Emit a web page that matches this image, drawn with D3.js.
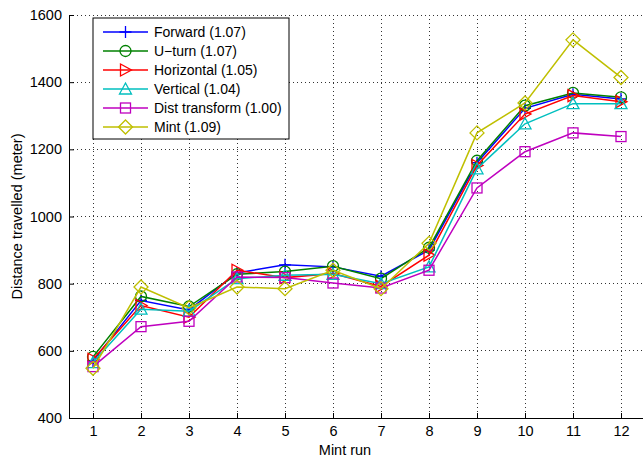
<!DOCTYPE html>
<html>
<head>
<meta charset="utf-8">
<script src="https://cdn.jsdelivr.net/npm/d3@7/dist/d3.min.js"></script>
<style>
  body { margin: 0; background: #fff; }
  svg { display: block; font-family: "Liberation Sans", Arial, sans-serif; }
</style>
</head>
<body>
<svg id="chart" width="643" height="460"></svg>
<script>
// data
var runs = [1, 2, 3, 4, 5, 6, 7, 8, 9, 10, 11, 12];
var seriesNames = ["Forward (1.07)", "U\u2212turn (1.07)", "Horizontal (1.05)", "Vertical (1.04)", "Dist transform (1.00)", "Mint (1.09)"];
var forward   = [570, 750, 722, 832, 856, 850, 822, 900, 1160, 1322, 1364, 1350];
var uturn     = [582, 762, 732, 828, 836, 852, 815, 907, 1166, 1330, 1368, 1355];
var horizontal= [575, 735, 700, 840, 818, 830, 792, 885, 1152, 1305, 1360, 1342];
var vertical  = [565, 724, 718, 815, 825, 828, 800, 850, 1142, 1276, 1336, 1336];
var distTrans = [553, 672, 688, 820, 818, 802, 787, 840, 1085, 1193, 1249, 1238];
var mint      = [548, 790, 728, 790, 785, 840, 785, 920, 1249, 1338, 1526, 1414];
var yTicks = [400, 600, 800, 1000, 1200, 1400, 1600];

var colors = ["#0000ff", "#008000", "#ff0000", "#00bfbf", "#bf00bf", "#bfbf00"];
var markers = ["plus", "circle", "right", "up", "square", "diamond"];
var allSeries = [forward, uturn, horizontal, vertical, distTrans, mint];

var fontSize = "14.5px";
var svg = d3.select("#chart");
var plotLeft = 69, plotRight = 645, plotTop = 15, plotBottom = 418;

var x = d3.scaleLinear().domain([0.5, 12.5]).range([plotLeft, plotRight]);
var y = d3.scaleLinear().domain([400, 1600]).range([plotBottom, plotTop]);

//grid
svg.append("g").selectAll("line")
  .data(runs).enter().append("line")
  .attr("x1", function(d){ return x(d); }).attr("x2", function(d){ return x(d); })
  .attr("y1", plotTop).attr("y2", plotBottom)
  .style("stroke", "#333").style("stroke-width", 1)
  .style("stroke-dasharray", "1,3").attr("shape-rendering", "crispEdges");
svg.append("g").selectAll("line")
  .data(yTicks.slice(1)).enter().append("line")
  .attr("x1", plotLeft).attr("x2", plotRight)
  .attr("y1", function(d){ return y(d); }).attr("y2", function(d){ return y(d); })
  .style("stroke", "#333").style("stroke-width", 1)
  .style("stroke-dasharray", "1,3").attr("shape-rendering", "crispEdges");

//axes (ticks inside, matlab style)
var xAxis = d3.axisBottom(x).tickValues(runs).tickSize(-5).tickPadding(8).tickSizeOuter(0);
var yAxis = d3.axisLeft(y).tickValues(yTicks).tickSize(-5).tickPadding(7).tickSizeOuter(0).tickFormat(d3.format("d"));

var gx = svg.append("g").attr("transform", "translate(0," + plotBottom + ")").call(xAxis);
var gy = svg.append("g").attr("transform", "translate(" + plotLeft + ",0)").call(yAxis);
[gx, gy].forEach(function(g){
  g.select(".domain").style("stroke", "#000").style("stroke-width", 1);
  g.selectAll(".tick line").style("stroke", "#000");
  g.selectAll("text").style("font-size", fontSize).style("fill", "#000")
    .style("font-family", "Liberation Sans, Arial, sans-serif");
});

svg.append("text")
  .attr("x", 345).attr("y", 455)
  .attr("text-anchor", "middle")
  .style("font-size", fontSize)
  .text("Mint run");

svg.append("text")
  .attr("transform", "translate(22," + ((plotTop + plotBottom) / 2) + ") rotate(-90)")
  .attr("text-anchor", "middle")
  .style("font-size", fontSize)
  .text("Distance travelled (meter)");

//marker drawing
function drawMarker(g, type, color) {
  if (type == "plus") {
    g.append("path").attr("d", "M-6,0H6M0,-6V6");
  } else if (type == "circle") {
    g.append("circle").attr("r", 5.5);
  } else if (type == "right") {
    g.append("path").attr("d", "M-5,-6L6,0L-5,6Z");
  } else if (type == "up") {
    g.append("path").attr("d", "M0,-6L6,5L-6,5Z");
  } else if (type == "square") {
    g.append("rect").attr("x", -5).attr("y", -5).attr("width", 10).attr("height", 10);
  } else if (type == "diamond") {
    g.append("path").attr("d", "M0,-7L7,0L0,7L-7,0Z");
  }
  g.selectAll("*").style("fill", "none").style("stroke", color).style("stroke-width", 1.3);
}

var line = d3.line()
  .x(function(d, i){ return x(runs[i]); })
  .y(function(d){ return y(d); });

allSeries.forEach(function(s, k){
  var g = svg.append("g");
  g.append("path")
    .datum(s)
    .attr("d", line)
    .style("fill", "none")
    .style("stroke", colors[k])
    .style("stroke-width", 1.5);
  s.forEach(function(v, i){
    var mg = g.append("g").attr("transform", "translate(" + x(runs[i]) + "," + y(v) + ")");
    drawMarker(mg, markers[k], colors[k]);
  });
});

//legend
var legend = svg.append("g");
legend.append("rect")
  .attr("x", 93).attr("y", 18).attr("width", 196).attr("height", 121)
  .style("fill", "#fff").style("stroke", "#000").style("stroke-width", 1);

seriesNames.forEach(function(name, k){
  var ly = 32 + k * 19;
  legend.append("line")
    .attr("x1", 103).attr("x2", 148).attr("y1", ly).attr("y2", ly)
    .style("stroke", colors[k]).style("stroke-width", 1.5);
  var mg = legend.append("g").attr("transform", "translate(125.5," + ly + ")");
  drawMarker(mg, markers[k], colors[k]);
  legend.append("text")
    .attr("x", 154).attr("y", ly).attr("dy", ".35em")
    .style("font-size", "14px")
    .text(name);
});
</script>
</body>
</html>
